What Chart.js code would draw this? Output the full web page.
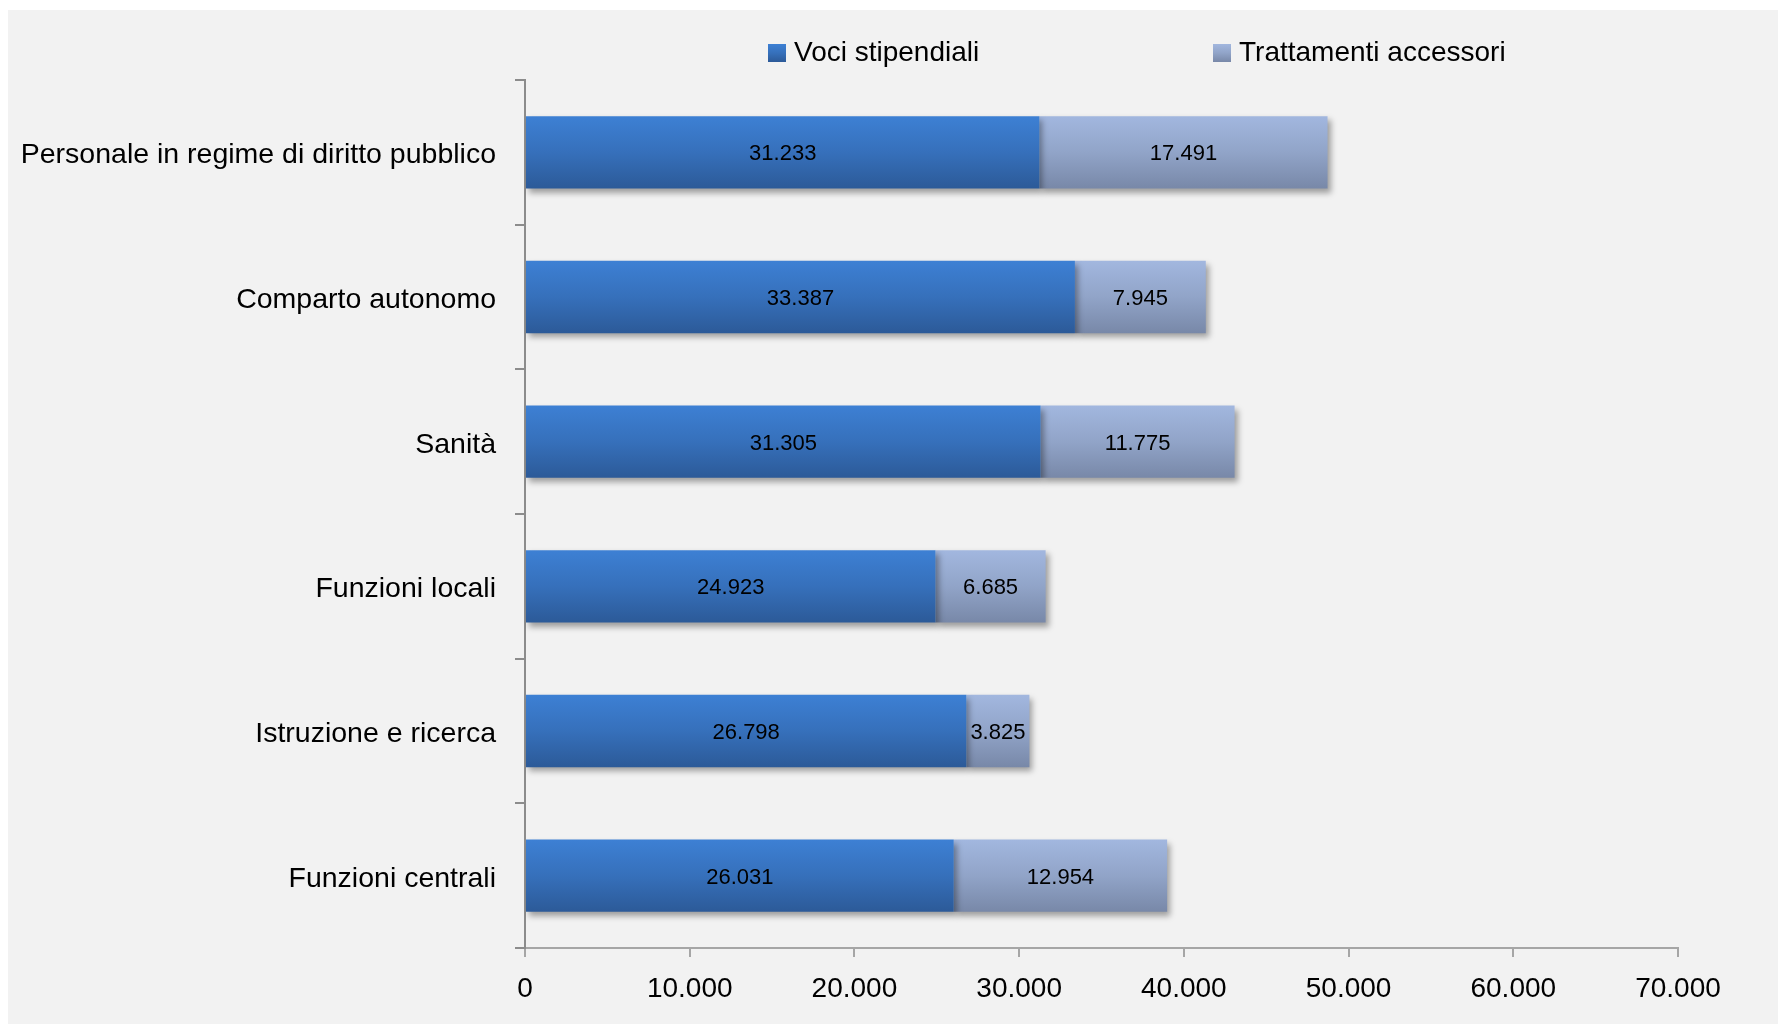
<!DOCTYPE html>
<html lang="it">

<head>
    <meta charset="UTF-8">
    <title>Retribuzioni medie per comparto</title>
    <script src="https://cdn.jsdelivr.net/npm/chart.js"></script>
    <style>
        body {
            margin: 0;
            padding: 0;
            background: #ffffff;
            font-family: 'Liberation Sans', Arial, sans-serif;
            overflow: hidden;
        }

        #sfondo {
            position: absolute;
            left: 8px;
            top: 10px;
            right: 0;
            bottom: 0;
            background: #f2f2f2;
        }

        #chart-box {
            position: absolute;
            left: 0;
            top: 0;
            width: 1778px;
            height: 1024px;
        }

        #legenda {
            position: absolute;
            top: 38px;
            left: 768px;
            height: 28px;
            font-size: 28px;
            color: #000;
        }

        .voce {
            position: absolute;
            top: 0;
            white-space: nowrap;
            line-height: 28px;
        }

        .quadro {
            display: inline-block;
            width: 18px;
            height: 18px;
            margin-right: 8px;
            vertical-align: -1px;
        }
    </style>
</head>

<body>
    <div id="sfondo"></div>
    <div id="chart-box">
        <canvas id="grafico"></canvas>
    </div>
    <div id="legenda"></div>

    <script>
        // categorie dall'alto verso il basso
        const comparti = [
            'Personale in regime di diritto pubblico',
            'Comparto autonomo',
            'Sanità',
            'Funzioni locali',
            'Istruzione e ricerca',
            'Funzioni centrali'
        ];
        const vociStipendiali = [31233, 33387, 31305, 24923, 26798, 26031];
        const trattamentiAccessori = [17491, 7945, 11775, 6685, 3825, 12954];
        const tickValori = [0, 10000, 20000, 30000, 40000, 50000, 60000, 70000];

        const serie = ['Voci stipendiali', 'Trattamenti accessori'];
        const sfumature = [
            ['#3d80d4', '#3670bb', '#2c5a98'],
            ['#a2b7df', '#91a4c8', '#7888a8']
        ];

        const fmt = n => String(n).replace(/\B(?=(\d{3})+(?!\d))/g, '.');

        // gradiente verticale per ogni barra
        function gradiente(idx) {
            return (ctx) => {
                const chart = ctx.chart;
                const y = chart.scales.y;
                if (!y || ctx.dataIndex === undefined) return sfumature[idx][1];
                const centro = y.getPixelForValue(ctx.dataIndex);
                const meta = (y.bottom - y.top) / comparti.length / 4;
                if (!isFinite(centro) || !isFinite(meta) || meta <= 0) return sfumature[idx][1];
                const g = chart.ctx.createLinearGradient(0, centro - meta, 0, centro + meta);
                g.addColorStop(0, sfumature[idx][0]);
                g.addColorStop(0.5, sfumature[idx][1]);
                g.addColorStop(1, sfumature[idx][2]);
                return g;
            };
        }

        // ombra sotto le barre
        const ombra = {
            id: 'ombra',
            beforeDatasetsDraw(chart) {
                const c = chart.ctx;
                c.save();
                c.shadowColor = 'rgba(0, 0, 0, 0.35)';
                c.shadowBlur = 6;
                c.shadowOffsetX = 3;
                c.shadowOffsetY = 4;
            },
            afterDatasetsDraw(chart) {
                chart.ctx.restore();
            }
        };

        // valori al centro di ogni segmento
        const etichette = {
            id: 'etichette',
            afterDraw(chart) {
                const c = chart.ctx;
                c.save();
                c.font = "22px 'Liberation Sans', Arial, sans-serif";
                c.fillStyle = '#000';
                c.textAlign = 'center';
                c.textBaseline = 'middle';
                chart.data.datasets.forEach((ds, d) => {
                    chart.getDatasetMeta(d).data.forEach((bar, i) => {
                        c.fillText(fmt(ds.data[i]), (bar.x + bar.base) / 2, bar.y + 2);
                    });
                });
                c.restore();
            }
        };

        Chart.defaults.font.family = "'Liberation Sans', Arial, sans-serif";
        Chart.defaults.color = '#000';

        const chart = new Chart(document.getElementById('grafico'), {
            type: 'bar',
            data: {
                labels: comparti,
                datasets: [
                    {
                        label: serie[0],
                        data: vociStipendiali,
                        backgroundColor: gradiente(0),
                        borderWidth: 0,
                        barPercentage: 0.5,
                        categoryPercentage: 1.0
                    },
                    {
                        label: serie[1],
                        data: trattamentiAccessori,
                        backgroundColor: gradiente(1),
                        borderWidth: 0,
                        barPercentage: 0.5,
                        categoryPercentage: 1.0
                    }
                ]
            },
            options: {
                indexAxis: 'y',
                responsive: true,
                maintainAspectRatio: false,
                animation: false,
                layout: {
                    padding: { left: 0, right: 100, top: 80, bottom: 0 }
                },
                scales: {
                    x: {
                        stacked: true,
                        min: 0,
                        max: 70000,
                        afterBuildTicks: (s) => { s.ticks = tickValori.map(v => ({ value: v })); },
                        afterFit: (s) => { s.height = 76; },
                        ticks: {
                            font: { size: 28 },
                            padding: 15,
                            color: '#000',
                            callback: (v) => fmt(v)
                        },
                        grid: {
                            drawOnChartArea: false,
                            tickLength: 9,
                            color: '#a6a6a6',
                            lineWidth: 2
                        },
                        border: { color: '#a6a6a6', width: 2 }
                    },
                    y: {
                        stacked: true,
                        afterFit: (s) => { s.width = 525; },
                        ticks: {
                            font: { size: 28.5 },
                            padding: 19,
                            labelOffset: 3,
                            color: '#000'
                        },
                        grid: {
                            offset: true,
                            drawOnChartArea: false,
                            tickLength: 10,
                            color: '#8c8c8c',
                            lineWidth: 2
                        },
                        border: { color: '#8c8c8c', width: 2 }
                    }
                },
                plugins: {
                    legend: { display: false },
                    tooltip: { enabled: false }
                }
            },
            plugins: [ombra, etichette]
        });

        // legenda in HTML con gli stessi nomi e colori
        const legenda = document.getElementById('legenda');
        const posizioni = [0, 445];
        serie.forEach((nome, i) => {
            const voce = document.createElement('div');
            voce.className = 'voce';
            voce.style.left = posizioni[i] + 'px';
            const q = document.createElement('span');
            q.className = 'quadro';
            q.style.background = 'linear-gradient(' + sfumature[i].join(',') + ')';
            voce.appendChild(q);
            voce.appendChild(document.createTextNode(nome));
            legenda.appendChild(voce);
        });
    </script>
</body>

</html>
